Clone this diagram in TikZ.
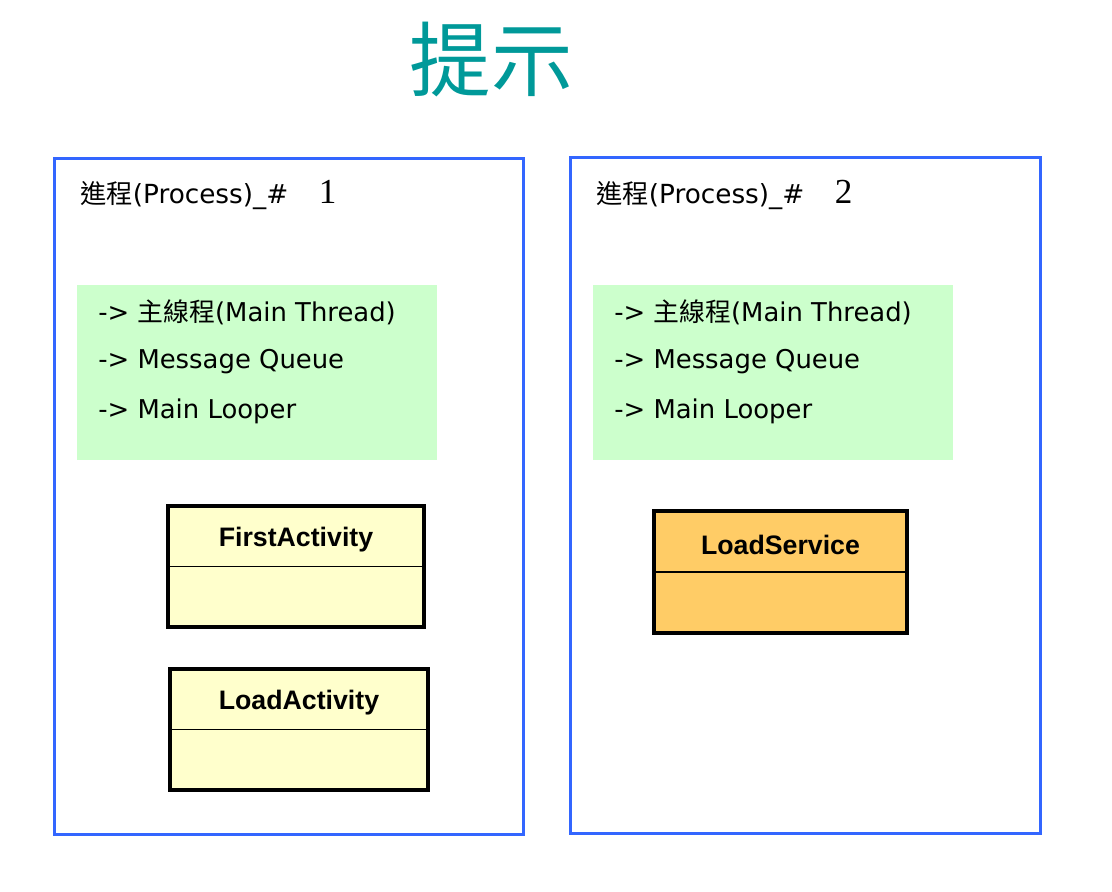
\documentclass[tikz,border=0pt]{standalone}
\usepackage{fontspec}
\setmainfont{DejaVu Sans}
\newfontfamily\cjk{Noto Sans CJK TC}
\newfontfamily\numfont{Liberation Serif}
\newfontfamily\classfont{Liberation Sans}
\usetikzlibrary{positioning,calc}
\definecolor{titlecolor}{HTML}{009999}
\definecolor{procblue}{HTML}{3366FF}
\definecolor{threadgreen}{HTML}{CCFFCC}
\definecolor{activityyellow}{HTML}{FFFFCC}
\definecolor{serviceorange}{HTML}{FFCC66}
\tikzset{
  process/.style={draw=procblue, line width=2.2pt, minimum width=11.7cm, minimum height=16.9cm},
  threadbox/.style={fill=threadgreen, minimum width=9cm, minimum height=4.375cm},
  headtext/.style={anchor=west, inner sep=0pt, font=\fontsize{18.7}{22}\selectfont},
  numtext/.style={inner sep=0pt, font=\numfont\fontsize{25}{28}\selectfont},
  itemtext/.style={anchor=west, inner sep=0pt, font=\fontsize{18.4}{22}\selectfont},
  classbox/.style={draw, line width=2.6pt, minimum width=6.4cm, minimum height=3.025cm},
  classname/.style={inner sep=0pt, font=\classfont\bfseries\fontsize{19}{22}\selectfont}
}
\begin{document}
\begin{tikzpicture}[x=0.025cm, y=-0.025cm]
  \useasboundingbox (0, 0) rectangle (1112, 892);

  % Title
  \node [text=titlecolor, inner sep=0pt, font=\cjk\fontsize{58}{64}\selectfont] (title) at (491, 60) {提示};

  % Process 1
  \node [process] (proc1) at (289, 496.5) {};
  \node [headtext] (head1) at (80, 196) {{\cjk 進程}(Process)\_\#};
  \node [numtext, right=0.75cm of head1.base east, anchor=base west] (num1) {1};
  \node [threadbox] (thread1) at (257, 372.5) {};
  \node [itemtext] (main1) at (98, 312) {-> {\cjk 主線程}(Main Thread)};
  \node [itemtext] (queue1) at (98, 362) {-> Message Queue};
  \node [itemtext] (looper1) at (98, 411) {-> Main Looper};

  % FirstActivity
  \node [classbox, fill=activityyellow] (first) at (296, 566.5) {};
  \draw [line width=1.2pt] (first.west) -- (first.east);
  \node [classname] (firstname) at (296, 540) {FirstActivity};

  % LoadActivity
  \node [classbox, fill=activityyellow, minimum width=6.45cm] (load) at (299, 729.5) {};
  \draw [line width=1.2pt] (load.west) -- (load.east);
  \node [classname] (loadname) at (299, 703) {LoadActivity};

  % Process 2
  \node [process, minimum width=11.725cm, minimum height=16.875cm] (proc2) at (805.5, 495.5) {};
  \node [headtext] (head2) at (596, 196) {{\cjk 進程}(Process)\_\#};
  \node [numtext, right=0.75cm of head2.base east, anchor=base west] (num2) {2};
  \node [threadbox] (thread2) at (773, 372.5) {};
  \node [itemtext] (main2) at (614, 312) {-> {\cjk 主線程}(Main Thread)};
  \node [itemtext] (queue2) at (614, 362) {-> Message Queue};
  \node [itemtext] (looper2) at (614, 411) {-> Main Looper};

  % LoadService
  \node [classbox, fill=serviceorange, minimum width=6.325cm, minimum height=3.05cm] (service) at (780.5, 572) {};
  \draw [line width=1.2pt] (service.west) -- (service.east);
  \node [classname] (servicename) at (780.5, 545) {LoadService};
\end{tikzpicture}
\end{document}
